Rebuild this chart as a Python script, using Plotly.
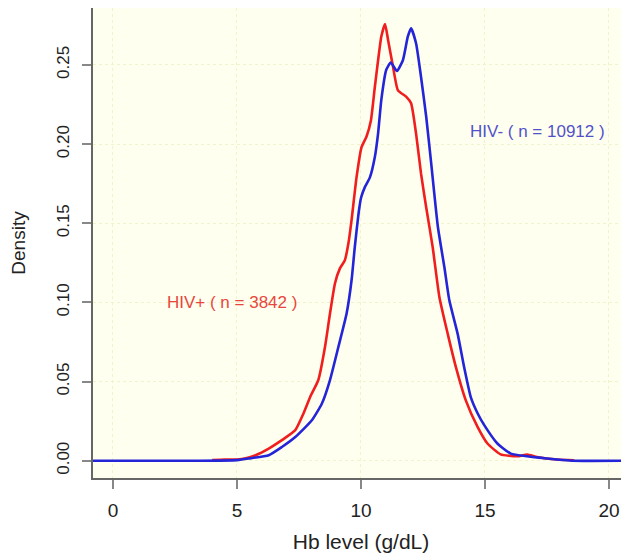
import plotly.graph_objects as go

# HIV+ density curve (red)
hiv_pos_x = [4.0, 4.5, 5.0, 5.4, 5.75, 6.28, 6.81, 7.35, 7.68, 7.95, 8.28, 8.55, 8.75, 8.95,
             9.15, 9.35, 9.5, 9.62, 9.82, 10.02, 10.22, 10.4, 10.55, 10.69, 10.82, 10.97, 11.09,
             11.29, 11.49, 11.82, 12.02, 12.22, 12.42, 12.63, 12.89, 13.16, 13.5, 13.83, 14.23,
             14.7, 15.1, 15.63, 16.3, 16.7, 17.1, 17.9, 18.6]
hiv_pos_y = [0.0005, 0.0008, 0.0008, 0.0018, 0.0035, 0.0077, 0.013, 0.0193, 0.0298, 0.0403,
             0.051, 0.072, 0.093, 0.112, 0.1215, 0.1267, 0.138, 0.152, 0.179, 0.198, 0.2047,
             0.215, 0.235, 0.253, 0.268, 0.2759, 0.266, 0.249, 0.234, 0.230, 0.2258, 0.2068,
             0.1815, 0.160, 0.135, 0.1035, 0.080, 0.059, 0.038, 0.0214, 0.0109, 0.004, 0.0028,
             0.0039, 0.0024, 0.0008, 0.0003]

# HIV- density curve (blue)
hiv_neg_x = [-1.0, 3.5, 5.0, 5.48, 6.28, 6.81, 7.35, 8.02, 8.42, 8.75, 9.09, 9.42, 9.62, 9.75,
             9.9, 10.0, 10.16, 10.36, 10.56, 10.69, 10.82, 11.02, 11.2, 11.45, 11.69, 11.89,
             12.02, 12.22, 12.42, 12.63, 12.83, 13.1, 13.36, 13.56, 13.9, 14.16, 14.43, 14.7,
             14.97, 15.5, 16.04, 16.7, 17.9, 18.5, 21.0]
hiv_neg_y = [0.0, 0.0, 0.0004, 0.0014, 0.0035, 0.0087, 0.015, 0.0256, 0.036, 0.051, 0.072,
             0.093, 0.114, 0.135, 0.156, 0.166, 0.173, 0.179, 0.192, 0.2068, 0.228, 0.247,
             0.2515, 0.2462, 0.253, 0.268, 0.2732, 0.2637, 0.2426, 0.2173, 0.188, 0.1478,
             0.1225, 0.1015, 0.080, 0.059, 0.040, 0.030,
             0.0225, 0.0109, 0.0045, 0.0028, 0.0008, 0.0, 0.0]

x_ticks = [0, 5, 10, 15, 20]
y_ticks = [0.00, 0.05, 0.10, 0.15, 0.20, 0.25]
y_tick_labels = ["0.00", "0.05", "0.10", "0.15", "0.20", "0.25"]

FONT = "Liberation Sans, Arial, sans-serif"

fig = go.Figure()
fig.add_trace(go.Scatter(x=hiv_pos_x, y=hiv_pos_y, mode="lines",
                         line=dict(color="#F01E1E", width=2.6, shape="spline", smoothing=0.5),
                         showlegend=False, hoverinfo="skip"))
fig.add_trace(go.Scatter(x=hiv_neg_x, y=hiv_neg_y, mode="lines",
                         line=dict(color="#2424D8", width=2.6, shape="spline", smoothing=0.5),
                         showlegend=False, hoverinfo="skip"))

fig.add_annotation(x=4.8, y=0.0998, xref="x", yref="y", text="HIV+ ( n = 3842 )",
                   showarrow=False, font=dict(family=FONT, size=17, color="#E8463C"))
fig.add_annotation(x=17.1, y=0.2083, xref="x", yref="y", text="HIV- ( n = 10912 )",
                   showarrow=False, font=dict(family=FONT, size=17, color="#5252C8"))

fig.update_layout(
    width=621, height=545,
    margin=dict(l=85, r=0, t=0, b=75),
    paper_bgcolor="white",
    plot_bgcolor="#FFFFF0",
    font=dict(family=FONT, color="#222222"),
    xaxis=dict(
        range=[-0.806, 20.807], tickvals=x_ticks, ticktext=[str(v) for v in x_ticks],
        automargin=False,
        ticks="outside", ticklen=9, tickcolor="#888888", tickwidth=1.5,
        ticklabelstandoff=5, ticklabeloverflow="allow",
        tickfont=dict(family=FONT, size=19, color="#222222"),
        showline=True, linecolor="#666666", linewidth=1.5, mirror=True,
        showgrid=True, gridcolor="#F2F2CC", griddash="dot", gridwidth=1,
        zeroline=False,
        title=dict(text="Hb level (g/dL)", font=dict(family=FONT, size=21, color="#222222"),
                   standoff=17),
    ),
    yaxis=dict(
        range=[-0.0109, 0.2860], tickvals=y_ticks, ticktext=y_tick_labels,
        automargin=False,
        tickangle=-90,
        ticks="outside", ticklen=9, tickcolor="#888888", tickwidth=1.5,
        ticklabelstandoff=6,
        tickfont=dict(family=FONT, size=17, color="#222222"),
        showline=True, linecolor="#666666", linewidth=1.5, mirror=False,
        showgrid=True, gridcolor="#F2F2CC", griddash="dot", gridwidth=1,
        zeroline=False,
        title=dict(text="Density", font=dict(family=FONT, size=19, color="#222222"),
                   standoff=25),
    ),
)

fig.write_html("out.html")
